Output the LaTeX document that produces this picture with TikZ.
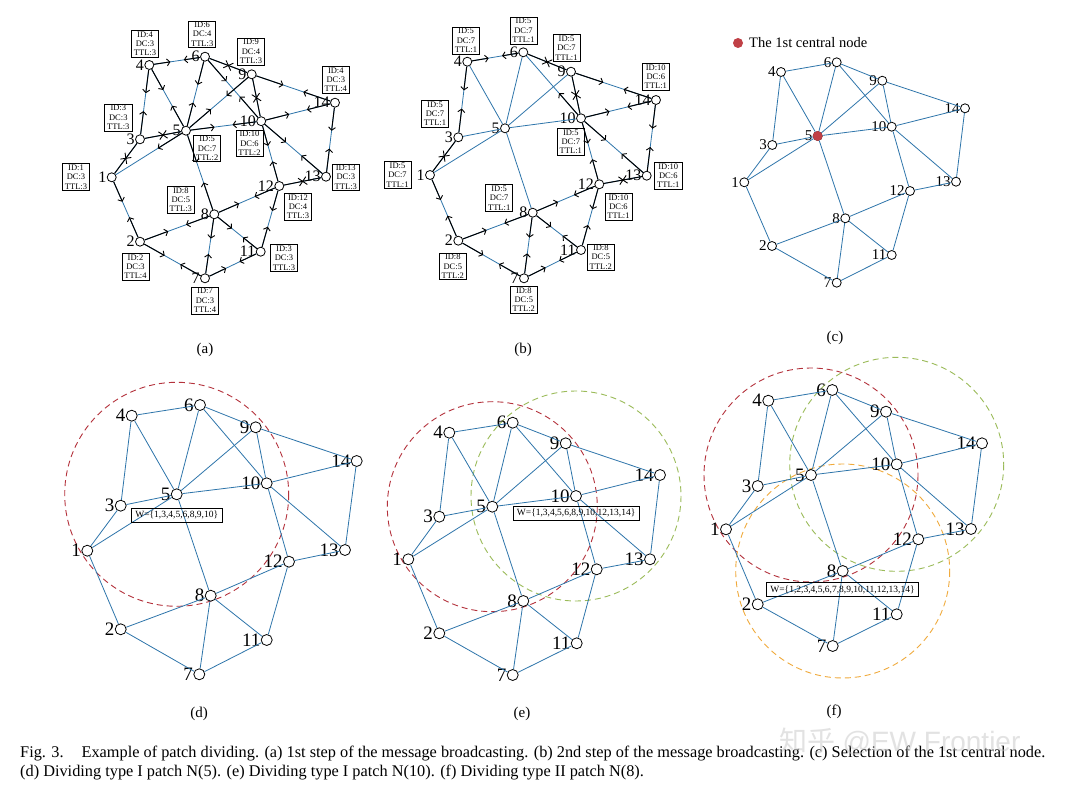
\documentclass[tikz,border=0pt]{standalone}
\usepackage{fontspec}
\setmainfont{Liberation Serif}
\newfontfamily\cjk{Noto Sans CJK SC}
\newfontfamily\wmfont{Liberation Sans}
\usetikzlibrary{arrows.meta,calc,shapes.misc}
\pgfdeclarelayer{bg}
\pgfsetlayers{bg,main}
\definecolor{edgeblue}{RGB}{46,117,170}
\definecolor{cred}{RGB}{192,64,70}
\definecolor{pred}{RGB}{180,50,60}
\definecolor{pgreen}{RGB}{155,187,89}
\definecolor{porange}{RGB}{240,170,60}
\tikzset{
  vtxs/.style={circle,draw=black,fill=white,line width=0.8pt,minimum size=9pt,inner sep=0pt},
  vtxl/.style={vtxs,minimum size=11pt},
  lbls/.style={font=\fontsize{16}{16}\selectfont,inner sep=0.3pt},
  lblc/.style={font=\fontsize{15}{15}\selectfont,inner sep=0.3pt},
  lbll/.style={font=\fontsize{19}{19}\selectfont,inner sep=0.3pt},
  gedge/.style={draw=edgeblue,line width=0.8pt},
  msg/.style={draw=black,line width=1pt,-{Straight Barb[length=3pt,width=7pt,line width=0.9pt]}},
  msgx/.style={draw=black,line width=1pt},
  xmark/.style={cross out,draw=black,line width=0.9pt,minimum size=7pt,inner sep=0pt,sloped},
  infobox/.style={draw,line width=0.6pt,font=\fontsize{8.5}{9.3}\selectfont,align=center,inner xsep=2.5pt,inner ysep=1.2pt},
  wbox/.style={draw,line width=0.6pt,font=\fontsize{9.5}{10}\selectfont,inner xsep=4pt,inner ysep=3pt},
  patch/.style={dash pattern=on 6pt off 4pt,line width=0.9pt},
  sublbl/.style={font=\fontsize{15}{15}\selectfont},
}
\newcommand\gedges[1]{\foreach \s/\t in {1/3,1/5,1/2,3/4,3/5,4/6,4/5,6/5,6/9,6/10,9/5,9/10,9/14,5/10,5/8,10/14,10/12,10/13,14/13,13/12,12/8,12/11,8/2,8/7,8/11,2/7,7/11} \draw[gedge] (#1\s) -- (#1\t);}
\newcommand\onemsg[3]{\draw[msg] (#1#2) -- ($(#1#2)!0.38!(#1#3)$);}
\newcommand\bothmsg[2]{\foreach \s/\t in {#2} {\onemsg{#1}{\s}{\t}\onemsg{#1}{\t}{\s}}}
\newcommand\xmsg[2]{\foreach \s/\t in {#2} \draw[msgx] (#1\s) -- node[xmark]{} (#1\t);}
\begin{document}
\begin{tikzpicture}[x=1pt,y=-1pt]
\useasboundingbox (0,0) rectangle (1066,791);
\begin{pgfonlayer}{bg}
\fill[white] (0,0) rectangle (1066,791);
\end{pgfonlayer}

% ---------------- (a)
\foreach \i/\x/\y in {1/111.7/177.3,2/140/241.7,3/140/139.3,4/149.3/65,5/186/130.7,6/205/56.7,7/205/278.3,8/214.3/214.3,9/251.7/74.3,10/261.2/121.2,11/260.7/251.7,12/279.3/186,13/326/176.7,14/335/102.7}
  \node[vtxs,label={[lbls]left:\i}] (a\i) at (\x,\y) {};
\gedges{a}
\bothmsg{a}{4/6,4/3,4/5,6/5,6/10,9/5,5/10,5/8,1/2,2/8,2/7,8/7,7/11,8/11,8/12,12/10,12/11,13/10,13/14,10/14,9/14}
\onemsg{a}{5}{1}
\xmsg{a}{6/9,9/10,3/5,1/3,12/13}
\node[infobox] (ab4) at (145,43.8) {ID:4\\DC:3\\TTL:3};
\node[infobox] (ab6) at (202.2,34.2) {ID:6\\DC:4\\TTL:3};
\node[infobox] (ab9) at (251,51.5) {ID:9\\DC:4\\TTL:3};
\node[infobox] (ab3) at (118.3,117.5) {ID:3\\DC:3\\TTL:3};
\node[infobox] (ab5) at (207.2,148.3) {ID:5\\DC:7\\TTL:2};
\node[infobox] (ab10) at (249.5,143.3) {ID:10\\DC:6\\TTL:2};
\node[infobox] (ab1) at (76,177) {ID:1\\DC:3\\TTL:3};
\node[infobox] (ab8) at (180.8,199.7) {ID:8\\DC:5\\TTL:3};
\node[infobox] (ab2) at (135.5,266.8) {ID:2\\DC:3\\TTL:4};
\node[infobox] (ab7) at (205,300.5) {ID:7\\DC:3\\TTL:4};
\node[infobox] (ab11) at (284,258) {ID:3\\DC:3\\TTL:3};
\node[infobox] (ab14) at (335.8,79.7) {ID:4\\DC:3\\TTL:4};
\node[infobox] (ab13) at (345.8,177.2) {ID:13\\DC:3\\TTL:3};
\node[infobox] (ab12) at (298,206.7) {ID:12\\DC:4\\TTL:3};
\node[sublbl] (sa) at (205,350) {(a)};

% ---------------- (b)
\foreach \i/\x/\y in {1/430/175,2/458.3/240.7,3/458.3/137.3,4/467.3/61.7,5/505/128.3,6/523.3/52.3,7/524/278.3,8/532.7/212.7,9/571/71.7,10/581/118.3,11/581/250,12/599.3/184.3,13/646.7/175.7,14/656/100}
  \node[vtxs,label={[lbls]left:\i}] (b\i) at (\x,\y) {};
\gedges{b}
\bothmsg{b}{4/6,4/3,1/2,2/8,2/7,8/7,7/11,8/12,8/11,12/11,12/10,13/10,13/14,10/14,9/14}
\onemsg{b}{10}{6}
\xmsg{b}{6/9,3/1,12/13,9/10}
\node[infobox] (bb4) at (466,40.5) {ID:5\\DC:7\\TTL:1};
\node[infobox] (bb6) at (523.5,30.5) {ID:5\\DC:7\\TTL:1};
\node[infobox] (bb9) at (566.5,48) {ID:5\\DC:7\\TTL:1};
\node[infobox] (bb3) at (435,113.8) {ID:5\\DC:7\\TTL:1};
\node[infobox] (bb1) at (397.5,175) {ID:5\\DC:7\\TTL:1};
\node[infobox] (bb8) at (499.2,198) {ID:5\\DC:7\\TTL:1};
\node[infobox] (bb2) at (452.8,266.3) {ID:8\\DC:5\\TTL:2};
\node[infobox] (bb7) at (523.8,299.7) {ID:8\\DC:5\\TTL:2};
\node[infobox] (bb14) at (655.8,76.8) {ID:10\\DC:6\\TTL:1};
\node[infobox] (bb10) at (570.8,141.7) {ID:5\\DC:7\\TTL:1};
\node[infobox] (bb13) at (668.3,175.8) {ID:10\\DC:6\\TTL:1};
\node[infobox] (bb12) at (618.5,206.7) {ID:10\\DC:6\\TTL:1};
\node[infobox] (bb11) at (600.8,257.2) {ID:8\\DC:5\\TTL:2};
\node[sublbl] (sb) at (523,350) {(b)};

% ---------------- (c)
\foreach \i/\x/\y in {1/744.3/182.3,2/772/246,3/772.3/145,4/781/72,5/817.7/136,6/836.7/62.3,7/836.7/282.7,8/845.3/218.3,9/882.3/80.7,10/891.7/126.7,11/891.7/255,12/910/191,13/956/181.7,14/965/108.3}
  \node[vtxs,label={[lblc]left:\i}] (c\i) at (\x,\y) {};
\node[vtxs,fill=cred,draw=cred] at (c5) {};
\gedges{c}
\node[circle,fill=cred,minimum size=10pt,inner sep=0pt] (legdot) at (738,43) {};
\node[anchor=west,font=\fontsize{14.5}{15}\selectfont,inner sep=0pt] (legtxt) at (749,43) {The 1st central node};
\node[sublbl] (sc) at (835,338) {(c)};

% ---------------- (d)
\foreach \i/\x/\y in {1/87.3/550.7,2/120.7/629.3,3/120.7/505.7,4/131.7/415.7,5/176.7/494.3,6/200/405,7/199.3/674.3,8/210.7/595.7,9/255.7/427.3,10/266.7/483.3,11/266.7/640,12/289/561.7,13/345/550,14/356.7/461}
  \node[vtxl,label={[lbll]left:\i}] (d\i) at (\x,\y) {};
\begin{pgfonlayer}{bg}
\draw[patch,pred] (d5.center) circle[radius=112];
\end{pgfonlayer}
\gedges{d}
\node[wbox] (dw) at (176.7,515) {W=\{1,3,4,5,6,8,9,10\}};
\node[sublbl] (sd) at (199,714) {(d)};

% ---------------- (e)
\foreach \i/\x/\y in {1/408.3/559.3,2/439.3/633.3,3/439.3/516.7,4/449.3/432.7,5/492.3/506.7,6/512.7/422.7,7/512.7/675,8/523.3/601,9/565.7/443.3,10/576/496,11/576.7/643.3,12/596.7/569.3,13/650/559.3,14/660/475}
  \node[vtxl,label={[lbll]left:\i}] (e\i) at (\x,\y) {};
\begin{pgfonlayer}{bg}
\draw[patch,pred] (e5.center) circle[radius=105];
\draw[patch,pgreen] (e10.center) circle[radius=105];
\end{pgfonlayer}
\gedges{e}
\node[wbox] (ew) at (576.2,513.3) {W=\{1,3,4,5,6,8,9,10,12,13,14\}};
\node[sublbl] (se) at (522,714) {(e)};

% ---------------- (f)
\foreach \i/\x/\y in {1/726/529.3,2/757.7/604.3,3/757.7/486,4/768.3/400.7,5/811/475,6/832.3/390,7/832.7/646,8/842.7/571,9/886/411.7,10/896.7/464.3,11/896.7/614.3,12/918.3/539.3,13/971/529,14/982/443.3}
  \node[vtxl,label={[lbll]left:\i}] (f\i) at (\x,\y) {};
\begin{pgfonlayer}{bg}
\draw[patch,pred] (f5.center) circle[radius=107];
\draw[patch,pgreen] (f10.center) circle[radius=107];
\draw[patch,porange] (f8.center) circle[radius=107];
\end{pgfonlayer}
\gedges{f}
\node[wbox] (fw) at (842.5,589.5) {W=\{1,2,3,4,5,6,7,8,9,10,11,12,13,14\}};
\node[sublbl] (sf) at (834,712) {(f)};

% ---------------- caption
\node[anchor=base west,inner sep=0pt,font=\fontsize{16.3}{19}\selectfont] (cap1) at (20,757)
  {Fig. 3.\hspace{1.1em}Example of patch dividing. (a) 1st step of the message broadcasting. (b) 2nd step of the message broadcasting. (c) Selection of the 1st central node.};
\node[anchor=base west,inner sep=0pt,font=\fontsize{16.3}{19}\selectfont] (cap2) at (20,776)
  {(d) Dividing type I patch N(5). (e) Dividing type I patch N(10). (f) Dividing type II patch N(8).};
\node[anchor=center,inner sep=0pt,text=gray!45,opacity=0.5,font=\fontsize{28}{28}\selectfont] (wm) at (900,742) {{\cjk 知乎} {\wmfont @EW Frontier}};
\end{tikzpicture}
\end{document}
